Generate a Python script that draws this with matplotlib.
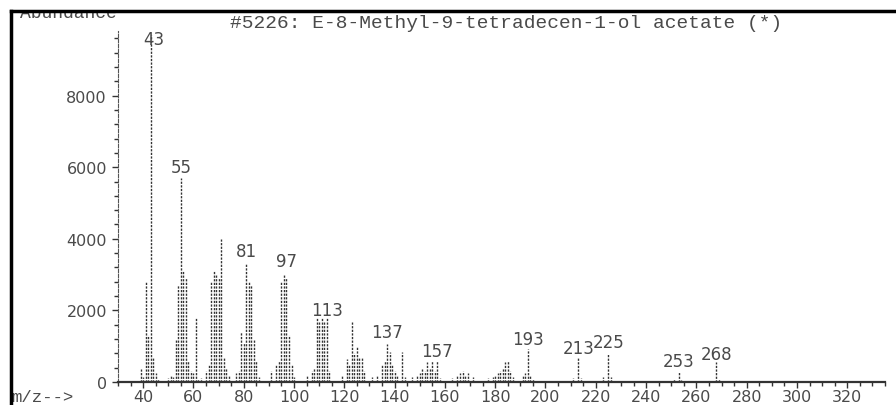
import matplotlib
matplotlib.use("Agg")
import matplotlib.pyplot as plt
from matplotlib.ticker import MultipleLocator
from matplotlib.patches import Rectangle
from matplotlib.lines import Line2D

# m/z and abundance
mz = [39, 40, 41, 42, 43, 44, 45, 46,
      50, 51, 52, 53, 54, 55, 56, 57, 58, 59, 60, 61,
      62, 63, 65, 66, 67, 68, 69, 70, 71, 72, 73, 74,
      77, 78, 79, 80, 81, 82, 83, 84, 85, 86,
      91, 93, 94, 95, 96, 97, 98, 99, 100,
      105, 107, 108, 109, 110, 111, 112, 113, 114,
      119, 121, 122, 123, 124, 125, 126, 127, 128,
      131, 133, 135, 136, 137, 138, 139, 140, 141, 143, 144,
      147, 149, 150, 151, 152, 153, 154, 155, 156, 157, 158,
      163, 165, 166, 167, 168, 169, 171,
      177, 179, 180, 181, 182, 183, 184, 185, 186, 187, 191, 192, 193, 194,
      195, 211, 213, 214, 223, 225, 226, 251, 253, 254, 268, 269]
abund = [350, 150, 2800, 1300, 9700, 700, 250, 80,
         100, 200, 150, 1200, 2700, 5700, 3100, 2900, 600, 300, 250, 1800,
         80, 100, 300, 500, 2800, 3100, 3000, 2900, 4000, 700, 400, 200,
         250, 300, 1400, 1100, 3300, 2800, 2700, 1200, 600, 150,
         300, 500, 600, 2800, 3000, 2900, 1300, 500, 150,
         200, 300, 400, 1800, 1700, 1800, 1700, 1800, 300,
         200, 650, 500, 1700, 800, 1000, 700, 700, 300,
         150, 200, 500, 600, 1050, 850, 500, 300, 200, 850, 150,
         150, 200, 250, 350, 300, 550, 400, 600, 300, 600, 100,
         100, 200, 250, 300, 200, 250, 150,
         100, 150, 200, 250, 300, 400, 550, 600, 300, 150, 200, 250, 920, 200,
         80, 100, 700, 100, 150, 780, 150, 80, 280, 60, 560, 80]

label_mz = [43, 55, 81, 97, 113, 137, 157, 193, 213, 225, 253, 268]
label_y = [9580, 6000, 3660, 3380, 2000, 1400, 870, 1200, 950, 1120, 590, 780]

title = "#5226: E-8-Methyl-9-tetradecen-1-ol acetate (*)"
ink = "#4a4a4a"

fig = plt.figure(figsize=(8.96, 4.06), dpi=100)
ax = fig.add_axes([0.1317, 0.0567, 0.856, 0.864])

ax.vlines(mz, 0, abund, colors="#333333", linewidth=1.0, linestyles=(0, (1.6, 1.0)))

for m, y in zip(label_mz, label_y):
    dx = 1.2 if m == 43 else 0
    ax.text(m + dx, y, str(m), ha="center", va="center", fontsize=12, color=ink, clip_on=False)

ax.set_xlim(30, 335)
ax.set_ylim(0, 9800)
ax.set_xticks(range(40, 321, 20))
ax.xaxis.set_minor_locator(MultipleLocator(5))
ax.yaxis.set_major_locator(MultipleLocator(2000))
ax.yaxis.set_minor_locator(MultipleLocator(400))
ax.tick_params(axis="both", which="both", direction="out", colors="#333", labelcolor=ink, labelsize=11.5)
ax.tick_params(axis="both", which="major", length=4, width=1)
ax.tick_params(axis="both", which="minor", length=3, width=1)
ax.tick_params(axis="x", pad=1)
ax.tick_params(axis="y", pad=4)
for s in ["top", "right"]:
    ax.spines[s].set_visible(False)
ax.spines["bottom"].set_linewidth(1.6)
ax.spines["bottom"].set_color("#333")
ax.spines["left"].set_linewidth(0.8)
ax.spines["left"].set_color("#555")
ax.spines["left"].set_linestyle((0, (3, 1.5)))

fig.text(0.565, 0.943, title, ha="center", va="center", fontsize=14,
         family="Liberation Mono", color=ink)
fig.text(0.022, 0.966, "Abundance", ha="left", va="center", fontsize=13,
         family="Liberation Mono", color=ink)
fig.text(0.012, 0.02, "m/z-->", ha="left", va="center", fontsize=12.5,
         family="Liberation Mono", color=ink)

# scan frame: white margin above, black edges left and top
fig.add_artist(Rectangle((0, 0.972), 1, 0.03, transform=fig.transFigure,
                         facecolor="white", edgecolor="none", zorder=10))
fig.add_artist(Line2D([0.012, 1], [0.970, 0.970], transform=fig.transFigure,
                      color="black", linewidth=2.5, zorder=11))
fig.add_artist(Line2D([0.012, 0.012], [0, 0.970], transform=fig.transFigure,
                      color="black", linewidth=2.5, zorder=11))

fig.savefig("out.png", dpi=100)
